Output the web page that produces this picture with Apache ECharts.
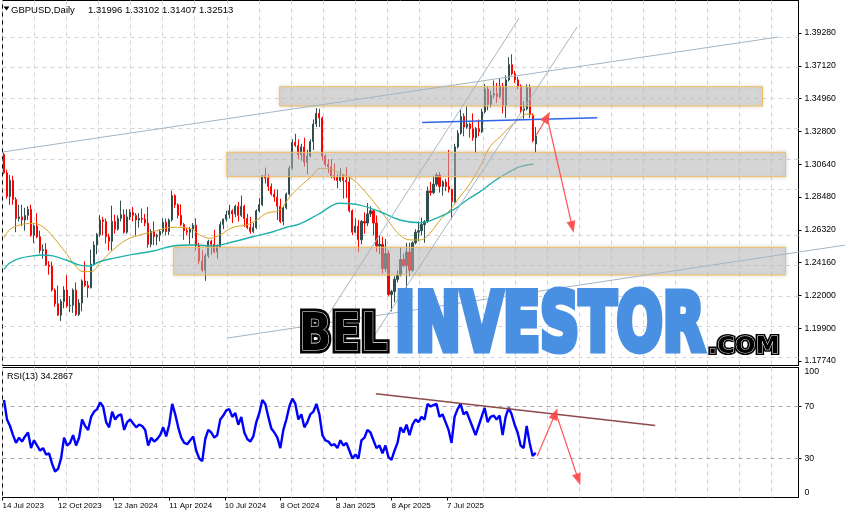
<!DOCTYPE html>
<html>
<head>
<meta charset="utf-8">
<title>GBPUSD Daily</title>
<script src="https://cdn.jsdelivr.net/npm/echarts@6.0.0/dist/echarts.min.js"></script>
<style>
html,body{margin:0;padding:0;background:#ffffff;overflow:hidden;}
#chart{width:845px;height:519px;}
</style>
</head>
<body>
<div id="chart"></div>
<script>
// ---------------- data ----------------
const symbolName = 'GBPUSD,Daily';
const rsiName = 'RSI(13)';

const barOpen = [1.3130,1.3010,1.2855,1.2960,1.2835,1.2710,1.2720,1.2700,1.2730,1.2770,
1.2600,1.2660,1.2590,1.2500,1.2505,1.2405,1.2395,1.2240,1.2150,1.2075,
1.2165,1.2240,1.2135,1.2140,1.2240,1.2080,1.2155,1.2300,1.2270,1.2255,
1.2410,1.2535,1.2605,1.2700,1.2690,1.2590,1.2560,1.2690,1.2640,1.2710,
1.2735,1.2620,1.2720,1.2750,1.2730,1.2700,1.2710,1.2705,1.2680,1.2540,
1.2625,1.2590,1.2600,1.2625,1.2685,1.2625,1.2700,1.2860,1.2800,1.2730,
1.2670,1.2630,1.2620,1.2640,1.2665,1.2530,1.2430,1.2370,1.2465,1.2560,
1.2540,1.2490,1.2525,1.2670,1.2705,1.2735,1.2760,1.2740,1.2790,1.2730,
1.2790,1.2710,1.2650,1.2625,1.2650,1.2760,1.2800,1.2990,1.2975,1.2920,
1.2870,1.2850,1.2790,1.2690,1.2780,1.2870,1.3040,1.3210,1.3190,1.3130,
1.3180,1.3080,1.3120,1.3215,1.3330,1.3400,1.3370,1.3120,1.3065,1.3050,
1.2990,1.2980,1.2960,1.2990,1.2960,1.2950,1.2760,1.2620,1.2660,1.2570,
1.2690,1.2680,1.2740,1.2760,1.2680,1.2530,1.2540,1.2380,1.2480,1.2210,
1.2230,1.2310,1.2340,1.2440,1.2400,1.2490,1.2370,1.2550,1.2620,1.2630,
1.2670,1.2690,1.2890,1.2880,1.2935,1.2995,1.2920,1.2950,1.2920,1.2900,
1.2820,1.3180,1.3270,1.3380,1.3310,1.3330,1.3300,1.3240,1.3300,1.3280,
1.3410,1.3560,1.3460,1.3520,1.3530,1.3510,1.3580,1.3450,1.3620,1.3720,
1.3660,1.3620,1.3580,1.3420,1.3430,1.3570,1.3390,1.31996];

const barHigh = [1.3142,1.3030,1.2995,1.2990,1.2850,1.2800,1.2800,1.2780,1.2790,1.2800,
1.2670,1.2745,1.2630,1.2540,1.2548,1.2430,1.2425,1.2250,1.2270,1.2180,
1.2265,1.2337,1.2200,1.2250,1.2290,1.2180,1.2310,1.2428,1.2300,1.2505,
1.2560,1.2615,1.2733,1.2720,1.2710,1.2610,1.2794,1.2735,1.2730,1.2827,
1.2770,1.2770,1.2770,1.2785,1.2745,1.2745,1.2775,1.2740,1.2785,1.2640,
1.2690,1.2610,1.2640,1.2710,1.2710,1.2710,1.2893,1.2870,1.2810,1.2803,
1.2680,1.2650,1.2655,1.2680,1.2710,1.2550,1.2500,1.2480,1.2570,1.2570,
1.2634,1.2540,1.2690,1.2710,1.2760,1.2800,1.2770,1.2800,1.2818,1.2860,
1.2800,1.2740,1.2720,1.2680,1.2770,1.2845,1.2995,1.3044,1.3000,1.2940,
1.2900,1.2900,1.2840,1.2790,1.2880,1.3055,1.3230,1.3266,1.3230,1.3200,
1.3240,1.3160,1.3230,1.3360,1.3434,1.3430,1.3380,1.3130,1.3100,1.3100,
1.3070,1.3000,1.3040,1.3000,1.3047,1.2990,1.2770,1.2710,1.2700,1.2700,
1.2750,1.2811,1.2790,1.2770,1.2730,1.2600,1.2590,1.2575,1.2500,1.2240,
1.2330,1.2370,1.2523,1.2480,1.2550,1.2550,1.2560,1.2640,1.2690,1.2715,
1.2700,1.2920,1.2950,1.2990,1.3010,1.3015,1.2960,1.2970,1.3160,1.2905,
1.3200,1.3290,1.3423,1.3400,1.3445,1.3340,1.3400,1.3310,1.3360,1.3430,
1.3593,1.3580,1.3550,1.3615,1.3600,1.3632,1.3600,1.3650,1.3770,1.3788,
1.3680,1.3640,1.3590,1.3480,1.3590,1.3590,1.3400,1.33102];

const barLow = [1.3000,1.2840,1.2800,1.2800,1.2620,1.2690,1.2660,1.2630,1.2700,1.2590,
1.2548,1.2580,1.2480,1.2445,1.2400,1.2340,1.2230,1.2130,1.2070,1.2037,
1.2120,1.2125,1.2095,1.2090,1.2070,1.2070,1.2100,1.2260,1.2190,1.2250,
1.2400,1.2475,1.2590,1.2600,1.2545,1.2500,1.2500,1.2610,1.2630,1.2690,
1.2610,1.2610,1.2700,1.2690,1.2597,1.2650,1.2680,1.2660,1.2518,1.2520,
1.2535,1.2535,1.2560,1.2610,1.2600,1.2600,1.2690,1.2780,1.2710,1.2660,
1.2570,1.2600,1.2540,1.2580,1.2500,1.2410,1.2360,1.2300,1.2450,1.2470,
1.2480,1.2446,1.2520,1.2640,1.2690,1.2710,1.2680,1.2720,1.2690,1.2720,
1.2655,1.2640,1.2610,1.2615,1.2640,1.2750,1.2790,1.2940,1.2890,1.2860,
1.2820,1.2700,1.2680,1.2665,1.2770,1.2860,1.3030,1.3180,1.3100,1.3090,
1.3050,1.3000,1.3110,1.3160,1.3310,1.3310,1.3090,1.3050,1.3010,1.2975,
1.2960,1.2908,1.2950,1.2840,1.2844,1.2750,1.2600,1.2615,1.2487,1.2540,
1.2610,1.2660,1.2720,1.2600,1.2490,1.2475,1.2350,1.2360,1.2200,1.2100,
1.2160,1.2290,1.2330,1.2390,1.2250,1.2330,1.2360,1.2540,1.2560,1.2600,
1.2550,1.2680,1.2860,1.2870,1.2920,1.2880,1.2860,1.2890,1.2880,1.2708,
1.2810,1.3170,1.3260,1.3250,1.3300,1.3240,1.3220,1.3139,1.3250,1.3270,
1.3400,1.3420,1.3440,1.3500,1.3470,1.3500,1.3400,1.3370,1.3610,1.3650,
1.3600,1.3560,1.3400,1.3365,1.3420,1.3370,1.3210,1.31407];

const barClose = [1.3010,1.2855,1.2960,1.2835,1.2710,1.2720,1.2700,1.2730,1.2770,1.2600,
1.2660,1.2590,1.2500,1.2505,1.2405,1.2395,1.2240,1.2150,1.2075,1.2165,
1.2240,1.2135,1.2140,1.2240,1.2080,1.2155,1.2300,1.2270,1.2255,1.2410,
1.2535,1.2605,1.2700,1.2690,1.2590,1.2560,1.2690,1.2640,1.2710,1.2735,
1.2620,1.2720,1.2750,1.2730,1.2700,1.2710,1.2705,1.2680,1.2540,1.2625,
1.2590,1.2600,1.2625,1.2685,1.2625,1.2700,1.2860,1.2800,1.2730,1.2670,
1.2630,1.2620,1.2640,1.2665,1.2530,1.2430,1.2370,1.2465,1.2560,1.2540,
1.2490,1.2525,1.2670,1.2705,1.2735,1.2760,1.2740,1.2790,1.2730,1.2790,
1.2710,1.2650,1.2625,1.2650,1.2760,1.2800,1.2990,1.2975,1.2920,1.2870,
1.2850,1.2790,1.2690,1.2780,1.2870,1.3040,1.3210,1.3190,1.3130,1.3180,
1.3080,1.3120,1.3215,1.3330,1.3400,1.3370,1.3120,1.3065,1.3050,1.2990,
1.2980,1.2960,1.2990,1.2960,1.2950,1.2760,1.2620,1.2660,1.2570,1.2690,
1.2680,1.2740,1.2760,1.2680,1.2530,1.2540,1.2380,1.2480,1.2210,1.2230,
1.2310,1.2340,1.2440,1.2400,1.2490,1.2370,1.2550,1.2620,1.2630,1.2670,
1.2690,1.2890,1.2880,1.2935,1.2995,1.2920,1.2950,1.2920,1.2900,1.2820,
1.3180,1.3270,1.3380,1.3310,1.3330,1.3300,1.3240,1.3300,1.3280,1.3410,
1.3560,1.3460,1.3520,1.3530,1.3510,1.3580,1.3450,1.3620,1.3720,1.3660,
1.3620,1.3580,1.3420,1.3430,1.3570,1.3390,1.3220,1.32513];

const rsiValues = [75,60,55,48,42,46,43,47,50,38,
44,40,36,38,33,34,26,20,22,30,
46,40,42,48,40,46,60,55,52,62,
66,68,73,70,58,54,66,60,63,64,
52,58,60,57,54,56,55,52,40,46,
43,45,48,54,47,56,72,64,54,46,
42,41,44,47,36,30,28,45,52,50,
46,48,60,63,67,68,62,65,56,62,
50,45,43,47,58,65,75,72,62,53,
50,46,38,52,60,70,76,72,60,64,
54,58,64,66,72,64,48,44,43,40,
41,38,44,40,42,36,30,33,30,44,
46,52,50,44,38,40,34,40,31,29,
36,42,54,50,56,48,56,60,58,62,
60,72,70,71,72,62,64,58,52,42,
62,68,72,64,66,60,54,48,55,62,
69,58,62,63,60,63,48,62,69,64,
56,50,40,38,55,42,32,34.2867];

// moving averages: [bar index, price]
const maFastPts = [[0,1.2582],[1.8,1.2634],[5.2,1.2667],[9.6,1.2678],[12.9,1.2656],[16.3,1.2590],[20.7,1.2481],[24.1,1.2393],[26.3,1.2361],[29.1,1.2361],[31.8,1.2416],[36.3,1.2503],[40.7,1.2569],[45.2,1.2601],[49.6,1.2623],[56.3,1.2652],[61.8,1.2645],[65.2,1.2601],[68.5,1.2580],[71.8,1.2601],[76.3,1.2652],[80.7,1.2667],[84.1,1.2700],[87.4,1.2744],[91.8,1.2766],[95.2,1.2853],[98.5,1.2919],[102.9,1.2996],[105.2,1.3039],[107.4,1.3039],[111.8,1.3007],[116.3,1.2963],[120.7,1.2875],[125.2,1.2766],[128.5,1.2678],[131.8,1.2601],[135.2,1.2569],[138.5,1.2569],[141.8,1.2613],[145.2,1.2700],[148.5,1.2766],[151.8,1.2853],[155.2,1.2941],[158.5,1.3050],[161.8,1.3181],[165.2,1.3247],[168.5,1.3313],[171.8,1.3368],[174.1,1.3396],[176.8,1.3383]];
const maSlowPts = [[0,1.2376],[1.8,1.2416],[5.2,1.2448],[9.6,1.2464],[12.9,1.2470],[16.3,1.2464],[20.7,1.2437],[25.2,1.2404],[28.5,1.2398],[31.8,1.2426],[36.3,1.2448],[42.9,1.2474],[49.6,1.2496],[56.3,1.2529],[62.9,1.2536],[69.6,1.2529],[76.3,1.2557],[82.9,1.2590],[89.6,1.2623],[94.1,1.2652],[98.5,1.2674],[105.2,1.2744],[111.8,1.2810],[118.5,1.2798],[125.2,1.2754],[131.8,1.2700],[138.5,1.2682],[145.2,1.2722],[149.6,1.2766],[154.1,1.2831],[158.5,1.2886],[162.9,1.2951],[167.4,1.3007],[171.8,1.3050],[176.3,1.3068]];

// axis ticks
const priceTickValues = [1.17740,1.19894,1.22048,1.24202,1.26356,1.28510,1.30664,1.32818,1.34972,1.37126,1.39280];
const priceTickLabels = ['1.17740','1.19900','1.22000','1.24160','1.26320','1.28480','1.30640','1.32800','1.34960','1.37120','1.39280'];
const rsiTickValues = [0, 30, 70, 100];
const rsiLevels = [70, 30];
const dateTickLabels = ['14 Jul 2023','12 Oct 2023','12 Jan 2024','11 Apr 2024','10 Jul 2024','8 Oct 2024','8 Jan 2025','8 Apr 2025','7 Jul 2025'];

// drawn objects, in (bar index, price) / (bar index, RSI)
const zoneBoxes = [
  [[91.8, 1.35753], [252.5, 1.34486]],
  [[74.2, 1.31445], [260.2, 1.29843]],
  [[56.5, 1.25206], [260.2, 1.23387]]
];
const channelLines = [
  [[-0.5, 1.31465], [257.8, 1.39017]],
  [[101.5, 1.18790], [171.5, 1.40265]],
  [[121.2, 1.18790], [190.8, 1.39674]]
];
const longSupportLine = [[74.5, 1.19250], [280.2, 1.25357]];   // runs past the price scale
const blueLine = [[139.2, 1.33402], [197.5, 1.33718]];
const priceArrows = [
  [[177.2, 1.32581], [180.8, 1.33764]],
  [[180.8, 1.33764], [189.2, 1.26539]]
];
const rsiTrend = [[123.8, 79.8], [216.8, 55.4]];
const rsiArrows = [
  [[177.5, 31.8], [183.5, 64.4]],
  [[183.8, 64.4], [191.2, 13.8]]
];

// ---------------- layout ----------------
const SLOTS = 265;                 // bars + empty space on the right
const PLOT_W = 796;
const VGRID_STEP = 32.04;          // px between vertical grid lines
const dateTickPos = [-0.5, 18, 36.5, 55, 73.5, 92, 110.5, 129, 147.5];
const FONT = '"Liberation Sans", Arial, sans-serif';
const GRID_COLOR = '#d4d4d4';
const UP = '#2f4f4f', DOWN = '#ff0000';

const N = barOpen.length;
const cats = Array.from({length: SLOTS}, (_, i) => String(i));
const candle = barOpen.map((o, i) => [o, barClose[i], barLow[i], barHigh[i]]);
const rsiData = rsiValues.map((v, i) => [i, v]);

function seg(pair, color, width, arrow) {
  return [
    {coord: pair[0], symbol: 'none', lineStyle: {color: color, width: width, type: 'solid', opacity: 1}},
    {coord: pair[1], symbol: arrow ? 'triangle' : 'none', symbolSize: [9, 12]}
  ];
}
function lineSeries(pair, color, width, xi, yi) {
  return {type: 'line', xAxisIndex: xi, yAxisIndex: yi, data: pair, clip: false, silent: true, z: 5,
    symbol: 'none', showSymbol: false, lineStyle: {color: color, width: width}};
}
const ARROW = 'rgba(255,70,70,0.9)';
const STEEL = '#a3b5c6';

const chart = echarts.init(document.getElementById('chart'), null, {renderer: 'canvas'});

const option = {
  animation: false,
  backgroundColor: '#ffffff',
  textStyle: {fontFamily: FONT},
  grid: [
    {left: 2.5, right: 46.5, top: 0.5, height: 365, show: true, borderColor: '#000', borderWidth: 1, backgroundColor: 'transparent', containLabel: false, outerBoundsMode: 'none'},
    {left: 2.5, right: 46.5, top: 367.5, height: 130, show: true, borderColor: '#000', borderWidth: 1, backgroundColor: 'transparent', containLabel: false, outerBoundsMode: 'none'}
  ],
  xAxis: [
    {type: 'category', gridIndex: 0, data: cats, boundaryGap: true, show: false, axisLine: {onZero: false}},
    {type: 'value', gridIndex: 0, min: -0.5, max: SLOTS - 0.5, show: false, axisLine: {onZero: false}},
    {type: 'value', gridIndex: 0, min: 0, max: PLOT_W / VGRID_STEP, interval: 1, position: 'top',
      axisLine: {show: false, onZero: false}, axisTick: {show: false}, axisLabel: {show: false},
      splitLine: {show: true, lineStyle: {type: [4, 4], color: GRID_COLOR, width: 1}}},
    {type: 'value', gridIndex: 1, min: -0.5, max: SLOTS - 0.5, position: 'bottom',
      axisLine: {show: false, onZero: false},
      axisTick: {show: true, length: 3, customValues: dateTickPos, lineStyle: {color: '#000'}},
      axisLabel: {show: true, customValues: dateTickPos, align: 'left', margin: 4, fontSize: 8, color: '#000', fontFamily: FONT,
        showMinLabel: true, showMaxLabel: true, hideOverlap: false,
        formatter: function (v) {
          const k = dateTickPos.findIndex(t => Math.abs(t - v) < 1e-6);
          return k >= 0 ? dateTickLabels[k] : '';
        }},
      splitLine: {show: false}},
    {type: 'value', gridIndex: 1, min: 0, max: PLOT_W / VGRID_STEP, interval: 1, position: 'top',
      axisLine: {show: false, onZero: false}, axisTick: {show: false}, axisLabel: {show: false},
      splitLine: {show: true, lineStyle: {type: [4, 4], color: GRID_COLOR, width: 1}}}
  ],
  yAxis: [
    {type: 'value', gridIndex: 0, position: 'right', min: 1.174438, max: 1.414144,
      axisLine: {show: true, onZero: false, lineStyle: {color: '#000'}},
      axisTick: {show: true, inside: false, length: 3, customValues: priceTickValues, lineStyle: {color: '#000'}},
      axisLabel: {show: true, inside: false, customValues: priceTickValues, margin: 6, fontSize: 8.7, color: '#000', fontFamily: FONT,
        showMinLabel: true, showMaxLabel: true, hideOverlap: false,
        formatter: function (v) {
          const k = priceTickValues.findIndex(t => Math.abs(t - v) < 1e-7);
          return k >= 0 ? priceTickLabels[k] : '';
        }},
      splitLine: {show: false}},
    {type: 'value', gridIndex: 1, position: 'right', min: 0, max: 100,
      axisLine: {show: true, onZero: false, lineStyle: {color: '#000'}},
      axisTick: {show: true, inside: false, length: 3, customValues: rsiLevels, lineStyle: {color: '#000'}},
      axisLabel: {show: true, inside: false, customValues: rsiTickValues, margin: 6, fontSize: 8.7, color: '#000', fontFamily: FONT,
        showMinLabel: true, showMaxLabel: true, hideOverlap: false,
        verticalAlignMinLabel: 'bottom', verticalAlignMaxLabel: 'top'},
      splitLine: {show: false}}
  ],
  series: [].concat([
    // horizontal price grid lines
    {type: 'line', xAxisIndex: 1, yAxisIndex: 0, data: [], silent: true, z: 1,
      markLine: {silent: true, z: 1, symbol: ['none', 'none'], label: {show: false}, animation: false,
        lineStyle: {type: [4, 4], color: GRID_COLOR, width: 1},
        data: priceTickValues.map(v => ({yAxis: v}))}},
    {type: 'candlestick', name: 'GBPUSD', xAxisIndex: 0, yAxisIndex: 0, data: candle, barWidth: 1.6, z: 2, silent: true,
      itemStyle: {color: UP, color0: DOWN, borderColor: UP, borderColor0: DOWN, borderWidth: 1}},
    {type: 'line', name: 'MA fast', xAxisIndex: 1, yAxisIndex: 0, data: maFastPts, showSymbol: false, symbol: 'none', smooth: 0.4, z: 3, silent: true,
      lineStyle: {color: '#d9a21e', width: 1}},
    {type: 'line', name: 'MA slow', xAxisIndex: 1, yAxisIndex: 0, data: maSlowPts, showSymbol: false, symbol: 'none', smooth: 0.4, z: 3, silent: true,
      lineStyle: {color: '#20b2aa', width: 1.4}},
    // zones, arrows, price label
    {type: 'line', xAxisIndex: 1, yAxisIndex: 0, data: [], clip: false, silent: true, z: 4,
      markArea: {silent: true, z: 4,
        itemStyle: {color: 'rgba(198,198,198,0.5)', borderColor: '#f2bd5c', borderWidth: 1, shadowBlur: 4, shadowColor: 'rgba(0,0,0,0.2)'},
        data: zoneBoxes.map(b => [{coord: b[0]}, {coord: b[1]}])},
      markLine: {silent: true, z: 6, symbol: ['none', 'none'], label: {show: false}, animation: false,
        data: [].concat(
          priceArrows.map(p => seg(p, ARROW, 1.2, true)),
          [{yAxis: barClose[N - 1], symbol: 'none', lineStyle: {opacity: 0},
            label: {show: true, position: 'end', distance: 2.5, offset: [0, -4.5],
              formatter: function () { return barClose[N - 1].toFixed(5); },
              backgroundColor: '#000', color: '#fff', padding: [1, 2, 1, 2], fontSize: 8.7, fontFamily: FONT}}]
        )}}
  ],
  channelLines.map(p => lineSeries(p, STEEL, 1, 1, 0)),
  [lineSeries(blueLine, '#2f63e8', 1.5, 1, 0)],
  [
    // RSI
    {type: 'line', name: rsiName, xAxisIndex: 3, yAxisIndex: 1, data: rsiData, showSymbol: false, symbol: 'none', z: 3, silent: true,
      lineStyle: {color: '#0000ff', width: 2.4},
      markLine: {silent: true, z: 1, symbol: ['none', 'none'], label: {show: false}, animation: false,
        lineStyle: {type: [4, 4], color: '#a8a8a8', width: 1},
        data: rsiLevels.map(v => ({yAxis: v}))}},
    lineSeries(rsiTrend, '#8c4a4a', 1.5, 3, 1),
    {type: 'line', xAxisIndex: 3, yAxisIndex: 1, data: [], clip: false, silent: true, z: 4,
      markLine: {silent: true, z: 6, symbol: ['none', 'none'], label: {show: false}, animation: false,
        data: rsiArrows.map(p => seg(p, ARROW, 1.2, true))}}
  ]),
  graphic: [
    {type: 'polygon', z: 50, shape: {points: [[3.5, 6.5], [9.5, 6.5], [6.5, 10.5]]}, style: {fill: '#000'}},
    {type: 'text', z: 50, x: 11, y: 10, style: {text: symbolName, font: '9.5px ' + FONT, fill: '#000', verticalAlign: 'middle', align: 'left'}},
    {type: 'text', z: 50, x: 88, y: 10, style: {
      text: [barOpen[N - 1], barHigh[N - 1], barLow[N - 1], barClose[N - 1]].map(v => v.toFixed(5)).join(' '),
      font: '9.5px ' + FONT, fill: '#000', verticalAlign: 'middle', align: 'left'}},
    {type: 'text', z: 50, x: 7, y: 377, style: {text: rsiName + ' ' + rsiValues[N - 1].toFixed(4), font: '9px ' + FONT, fill: '#000', verticalAlign: 'middle', align: 'left'}},
    // watermark
    {type: 'text', z: 100, x: 299, y: 336, scaleX: 0.82, style: {text: 'BEL', font: 'bold 52px "DejaVu Sans"', fill: '#000', stroke: '#000', lineWidth: 7, lineJoin: 'miter', verticalAlign: 'middle', align: 'left'}},
    {type: 'text', z: 101, x: 299, y: 336, scaleX: 0.82, style: {text: 'BEL', font: 'bold 52px "DejaVu Sans"', fill: '#000', stroke: '#fff', lineWidth: 1.1, verticalAlign: 'middle', align: 'left'}},
    {type: 'text', z: 100, x: 395, y: 329, scaleX: 0.672, style: {text: 'INVESTOR', font: 'bold 81px "DejaVu Sans"', fill: '#4a90e2', stroke: '#4a90e2', lineWidth: 7, lineJoin: 'miter', verticalAlign: 'middle', align: 'left',
      shadowBlur: 3, shadowColor: 'rgba(0,0,0,0.35)', shadowOffsetX: 2, shadowOffsetY: 2}},
    {type: 'text', z: 100, x: 708, y: 347, scaleX: 1.05, style: {text: '.COM', font: 'bold 23px "DejaVu Sans"', fill: '#000', stroke: '#000', lineWidth: 4, lineJoin: 'miter', verticalAlign: 'middle', align: 'left'}},
    {type: 'text', z: 101, x: 708, y: 347, scaleX: 1.05, style: {text: '.COM', font: 'bold 23px "DejaVu Sans"', fill: '#000', stroke: '#fff', lineWidth: 0.9, verticalAlign: 'middle', align: 'left'}}
  ]
};

chart.setOption(option);

// the long support line crosses the price scale, so it is drawn from its data points
// converted through the chart's own axes (no clipping to the plot area)
const pA = chart.convertToPixel({xAxisIndex: 1, yAxisIndex: 0}, longSupportLine[0]);
const pB = chart.convertToPixel({xAxisIndex: 1, yAxisIndex: 0}, longSupportLine[1]);
option.graphic.push({type: 'line', z: 5, silent: true,
  shape: {x1: pA[0], y1: pA[1], x2: pB[0], y2: pB[1]},
  style: {stroke: STEEL, lineWidth: 1}});
chart.setOption({graphic: option.graphic});
</script>
</body>
</html>
